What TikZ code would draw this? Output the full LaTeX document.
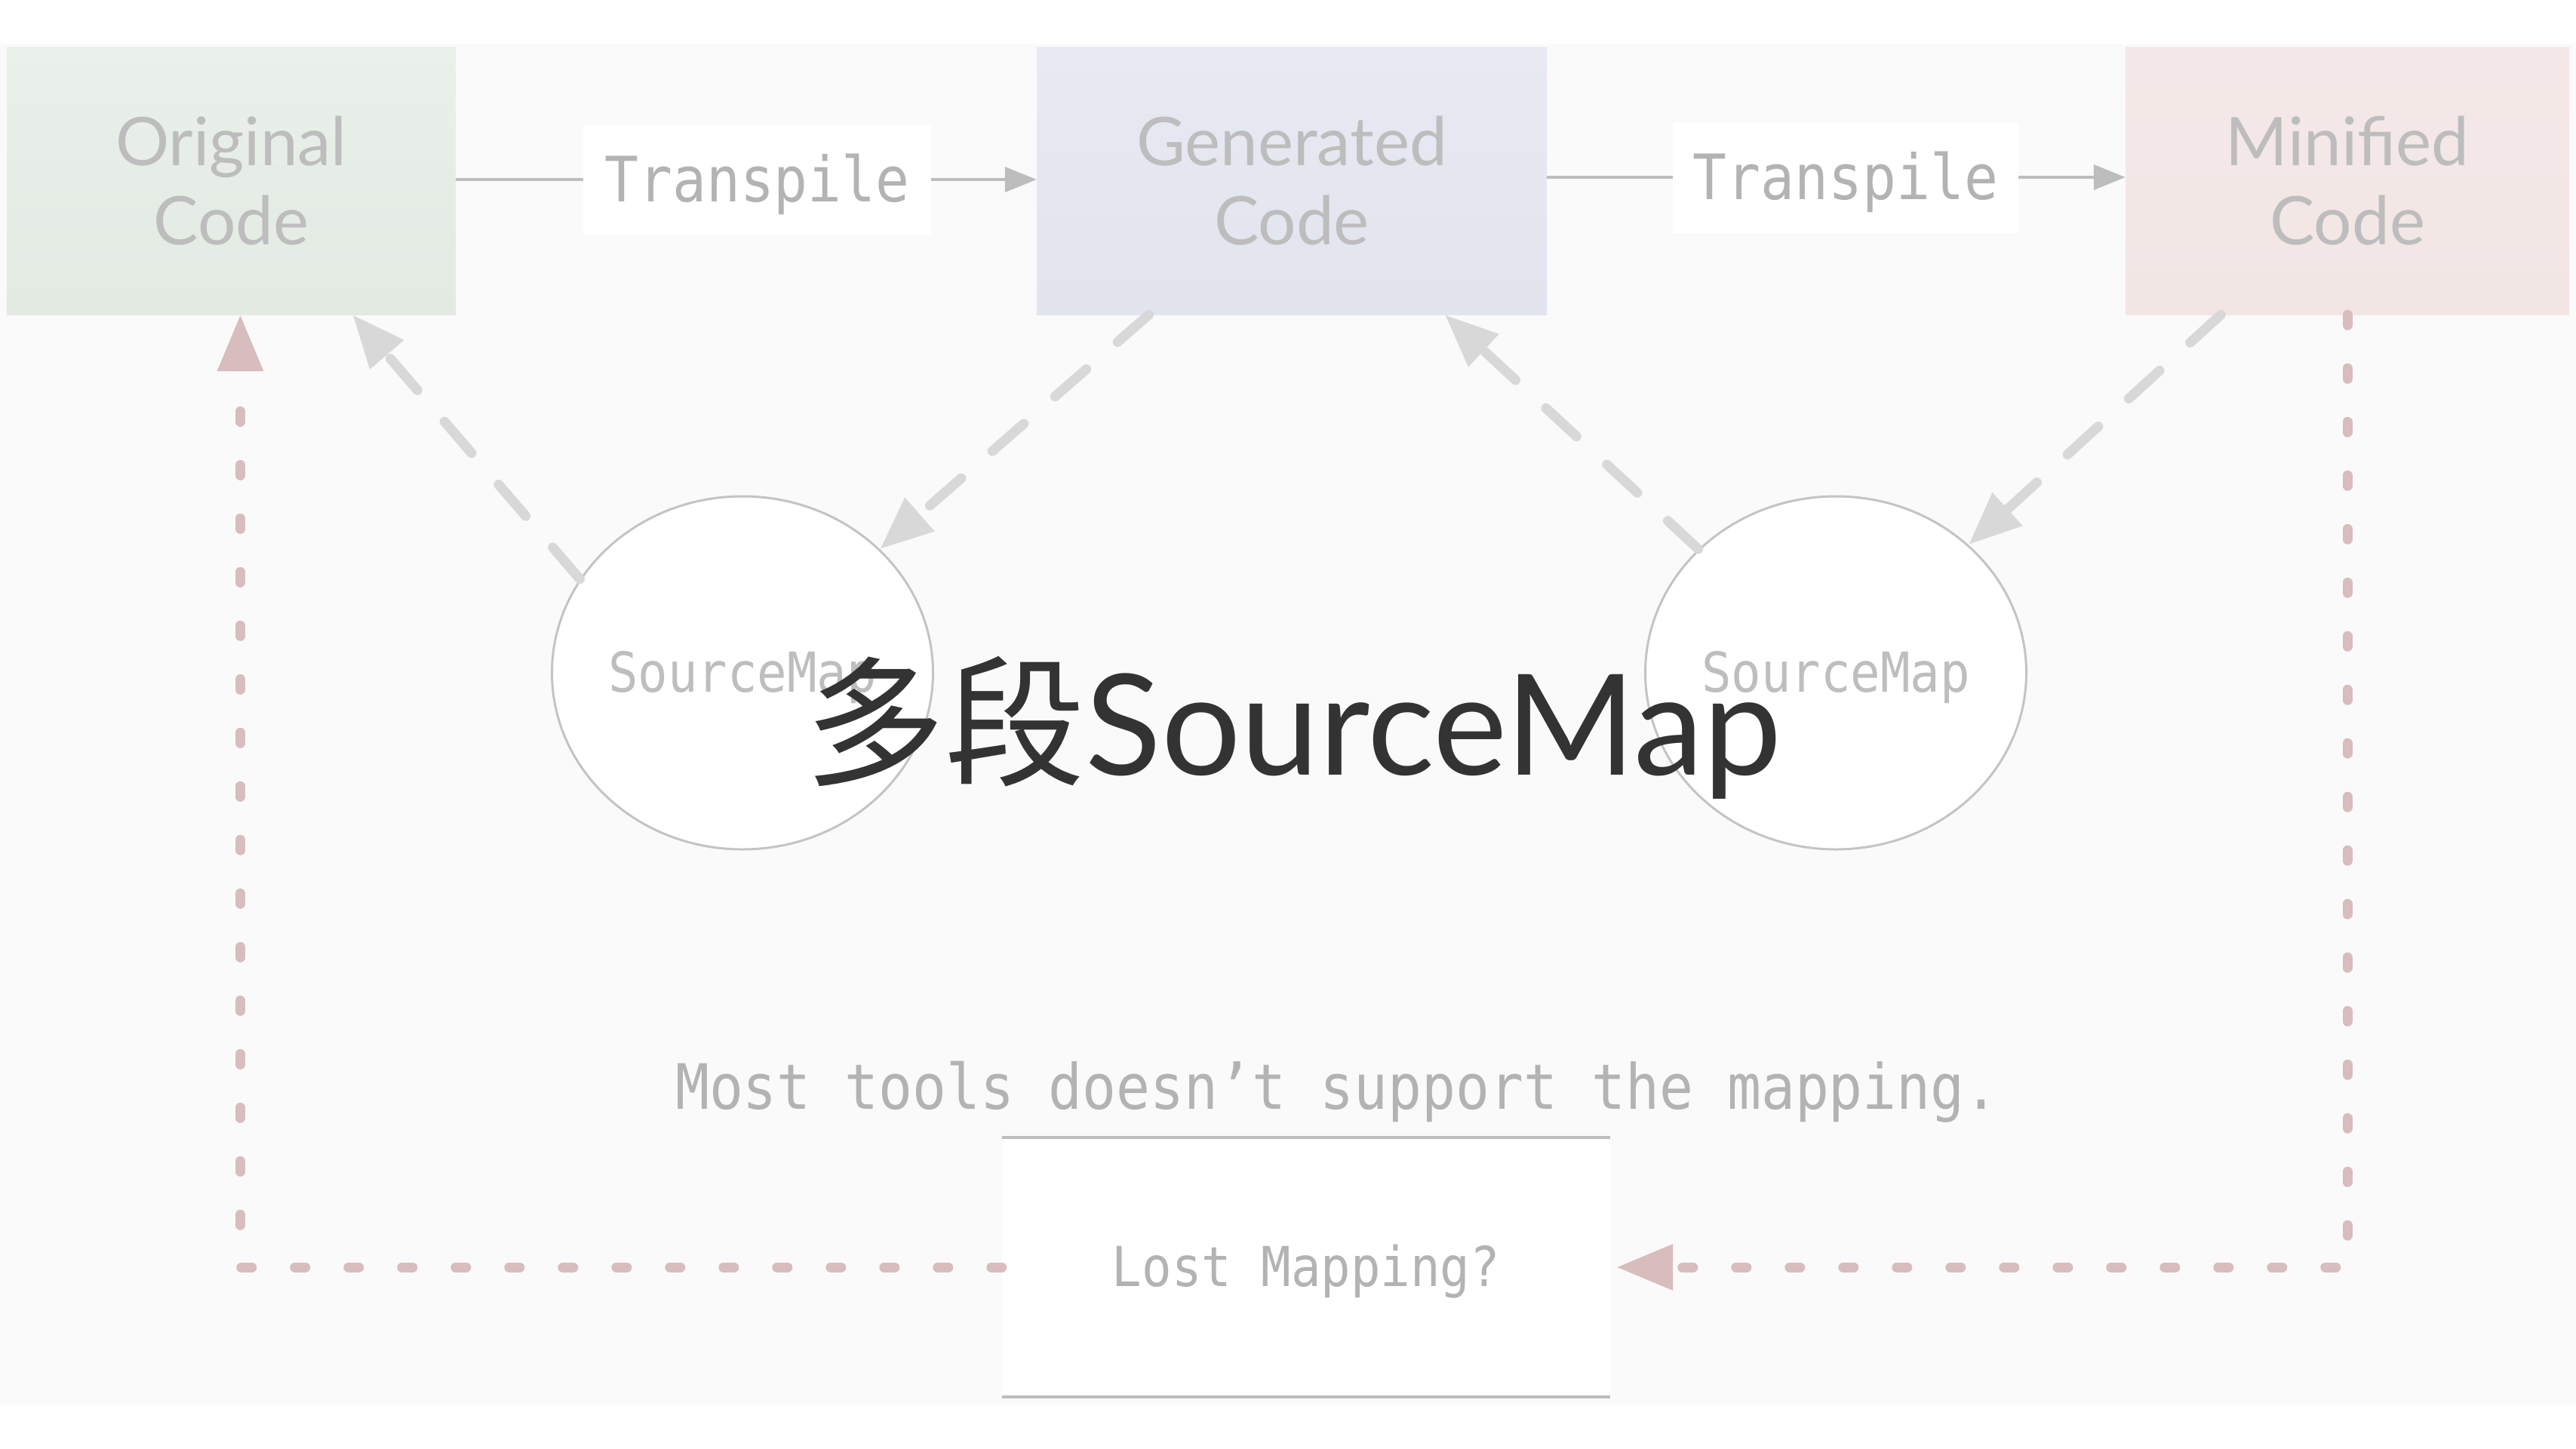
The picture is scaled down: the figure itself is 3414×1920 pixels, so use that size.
\documentclass[tikz,border=0pt]{standalone}
\usepackage{fontspec}
\setmainfont{Lato}
\newfontfamily\cjkf{Noto Sans CJK SC}
\newfontfamily\monof[FakeStretch=0.9]{DejaVu Sans Mono}
\usetikzlibrary{shapes.geometric,arrows.meta,calc}
\definecolor{bgc}{HTML}{FAFAFA}
\definecolor{boxtxt}{HTML}{BDBDBD}
\definecolor{monotxt}{HTML}{B3B3B3}
\definecolor{smtxt}{HTML}{BEBEBE}
\definecolor{tlinec}{HTML}{BDBDBD}
\definecolor{ellc}{HTML}{C4C4C4}
\definecolor{gdc}{HTML}{D8D8D8}
\definecolor{pdc}{HTML}{D8BCBE}
\definecolor{titlec}{HTML}{333333}
\definecolor{ogtop}{HTML}{EAF0EA}
\definecolor{ogbot}{HTML}{E2EAE2}
\definecolor{gntop}{HTML}{E8E9F2}
\definecolor{gnbot}{HTML}{E2E5EE}
\definecolor{mntop}{HTML}{F4E9E8}
\definecolor{mnbot}{HTML}{F2E6E5}
\tikzset{
  codebox/.style={rectangle, minimum width=#1, minimum height=355pt, inner sep=0pt,
    align=center, font=\fontsize{89}{105}\selectfont, text=boxtxt},
  tlabel/.style={fill=white, inner sep=0pt, font=\monof\fontsize{83}{90}\selectfont,
    text=monotxt, text height=58pt, text depth=0pt},
  tline/.style={draw=tlinec, line width=4pt},
  tarrow/.style={tline, -{Triangle[length=42pt,width=33pt]}},
  smap/.style={ellipse, draw=ellc, line width=3pt, fill=white, minimum width=505pt,
    minimum height=468pt, inner sep=0pt, font=\monof\fontsize{73}{80}\selectfont,
    text=smtxt, text height=50pt, text depth=0pt},
  gdash/.style={draw=gdc, line width=13pt, line cap=round, dash pattern=on 55pt off 55pt,
    -{Triangle[length=70pt,width=56pt]}},
  pdash/.style={draw=pdc, line width=13pt, line cap=round, dash pattern=on 14pt off 57pt,
    -{Triangle[length=75pt,width=58pt]}},
  lostline/.style={draw=tlinec, line width=4pt},
}
\begin{document}
\begin{tikzpicture}[x=1pt,y=-1pt]
\useasboundingbox (0,0) rectangle (3414,1920);
\fill[bgc] (0,58) rectangle (3414,1862);

% code boxes
\node[codebox=595pt, top color=ogtop, bottom color=ogbot] (orig) at (306.5,239.5) {Original\\Code};
\node[codebox=676pt, top color=gntop, bottom color=gnbot] (gen) at (1712,239.5) {Generated\\Code};
\node[codebox=588pt, top color=mntop, bottom color=mnbot] (mini) at (3111,239.5) {Minified\\Code};

% transpile labels
\node[tlabel, minimum width=461pt, minimum height=145pt] (t1) at (1003.5,238) {Transpile};
\node[tlabel, minimum width=458pt, minimum height=147pt] (t2) at (2446,235) {Transpile};
\draw[tline] (orig.east |- t1) -- (t1);
\draw[tarrow] (t1) -- (gen.west |- t1);
\draw[tline] (gen.east |- t2) -- (t2);
\draw[tarrow] (t2) -- (mini.west |- t2);

% sourcemap ellipses
\node[smap] (sm1) at (984,892) {SourceMap};
\node[smap] (sm2) at (2433,892) {SourceMap};

% gray dashed arrows
\coordinate (o1) at ($(orig.south west)!0.77!(orig.south east)$);
\coordinate (g1) at ($(gen.south west)!0.22!(gen.south east)$);
\coordinate (g2) at ($(gen.south west)!0.80!(gen.south east)$);
\coordinate (m1) at ($(mini.south west)!0.215!(mini.south east)$);
\draw[gdash] (sm1.150) -- (o1);
\draw[gdash] (g1) -- (sm1.42);
\draw[gdash] (sm2.138) -- (g2);
\draw[gdash] (m1) -- (sm2.44);

% lost mapping box
\node[fill=white, minimum width=806pt, minimum height=344pt, inner sep=0pt,
  rounded corners=10pt, font=\monof\fontsize{73}{80}\selectfont, text=monotxt,
  text height=50pt, text depth=0pt] (lost) at (1731,1680) {Lost Mapping?};
\draw[lostline] (lost.north west) -- (lost.north east);
\draw[lostline] (lost.south west) -- (lost.south east);

% pink dotted arrows
\coordinate (o2) at ($(orig.south)+(12,0)$);
\coordinate (le) at ($(lost.east)+(8,0)$);
\draw[pdash] (mini.south) |- (le);
\draw[pdash] (lost.west) -| (o2);

% note
\node[anchor=base, inner sep=0pt, font=\monof\fontsize{83}{90}\selectfont, text=monotxt] (note) at (1772,1470) {Most tools doesn’t support the mapping.};

% title
\node[anchor=base, inner sep=0pt, text=titlec, font=\fontsize{186}{200}\selectfont] (title) at (1714,1027) {{\cjkf 多段}SourceMap};
\end{tikzpicture}
\end{document}
